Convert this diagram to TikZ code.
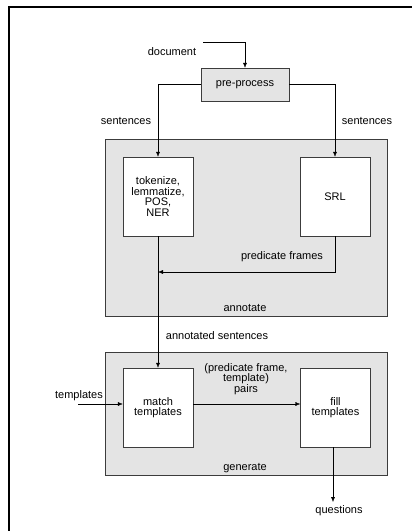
\documentclass[tikz,border=0pt]{standalone}
\usepackage{fontspec}
\setmainfont{Liberation Sans}
\usetikzlibrary{arrows.meta,positioning,calc}
\definecolor{panelgray}{RGB}{228,228,228}
\definecolor{edgegray}{RGB}{60,60,60}
\tikzstyle{stage} = [draw=edgegray,fill=white,inner sep=0pt,align=center,minimum width=70pt,minimum height=79pt]
\tikzstyle{panel} = [draw=edgegray,fill=panelgray]
\tikzstyle{lbl} = [inner sep=0pt,align=center]

\begin{document}
\begin{tikzpicture}[x=1pt,y=-1pt,>={Latex[length=5pt,width=4pt]},font=\fontsize{11}{10.6}\selectfont]
    \useasboundingbox (0,0) rectangle (412,531);
    \draw [line width=2pt] (9,531) -- (9,7) -- (412,7);

    \draw [panel] (105,139) rectangle (387,316);
    \draw [panel] (105,352) rectangle (387,475);

    \node [stage,fill=panelgray,minimum width=88pt,minimum height=33pt] (pre) at (245,84.5) {pre-process};
    \node [stage] (tok) at (158,196.5) {tokenize,\\lemmatize,\\POS,\\NER};
    \node [stage] (srl) at (335,196.5) {SRL};
    \node [stage] (match) at (158,407.5) {match\\templates};
    \node [stage] (fill) at (335.5,407.5) {fill\\templates};

    \coordinate (docin) at (203,42);
    \coordinate (pfend) at (158,272);
    \coordinate (tin) at (78,404);
    \coordinate (qout) at (333,502);

    \draw [->] (docin) -| (pre);
    \draw [->] (pre.west) -| (tok);
    \draw [->] (pre.east) -| (srl);
    \draw [->] (srl) |- (pfend);
    \draw [->] (tok) -- (match);
    \draw [->] (tin) -- (tin -| match.west);
    \draw [->] (match.east |- tin) -- (fill.west |- tin);
    \draw [->] (fill.south -| qout) -- (qout);

    \node [lbl] (doclbl) at (172,52) {document};
    \node [lbl] (sentl) at (126,121) {sentences};
    \node [lbl] (sentr) at (367,121) {sentences};
    \node [lbl] (pflbl) at (282,257) {predicate frames};
    \node [lbl] (annlbl) at (245,308) {annotate};
    \node [lbl] (aslbl) at (217,336) {annotated sentences};
    \node [lbl] (pairlbl) at (246,379) {(predicate frame,\\template)\\pairs};
    \node [lbl] (tlbl) at (79,396) {templates};
    \node [lbl] (genlbl) at (245,468) {generate};
    \node [lbl] (qlbl) at (339,511) {questions};
\end{tikzpicture}
\end{document}
